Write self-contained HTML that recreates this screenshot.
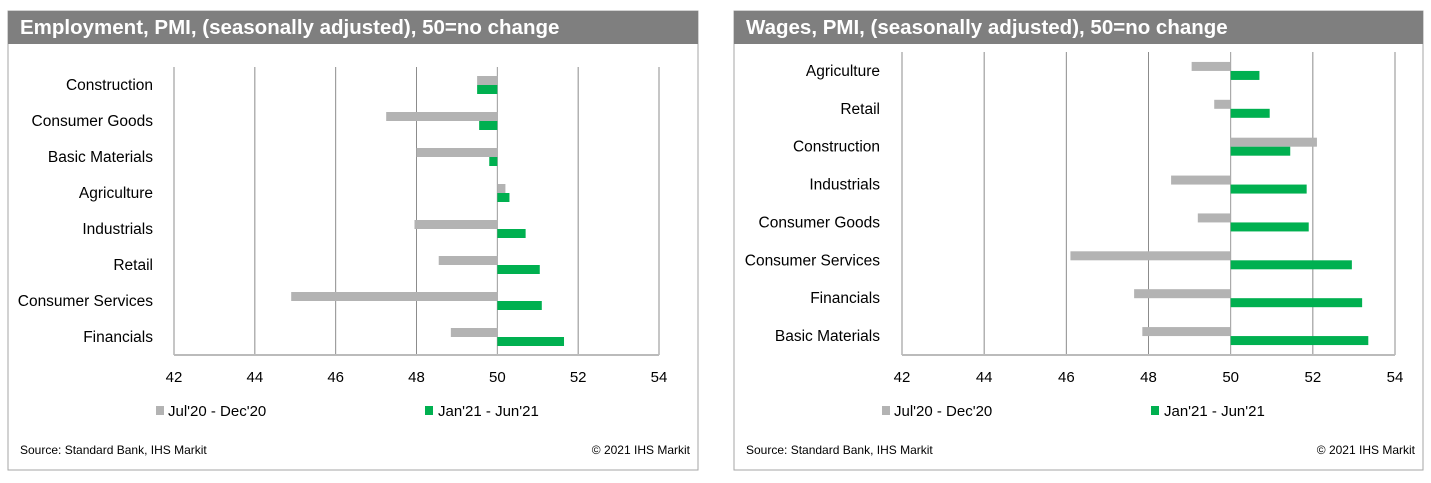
<!DOCTYPE html>
<html><head><meta charset="utf-8"><style>
body{margin:0;background:#fff;width:1431px;height:483px;overflow:hidden;font-family:"Liberation Sans",sans-serif}
svg{position:absolute;left:0;top:0}
</style></head><body>
<svg width="1431" height="483" id="s"></svg>
<script>
const cats1=["Construction","Consumer Goods","Basic Materials","Agriculture","Industrials","Retail","Consumer Services","Financials"];
const gray1=[49.5,47.25,48.0,50.2,47.95,48.55,44.9,48.85];
const green1=[49.5,49.55,49.8,50.3,50.7,51.05,51.1,51.65];
const cats2=["Agriculture","Retail","Construction","Industrials","Consumer Goods","Consumer Services","Financials","Basic Materials"];
const gray2=[49.05,49.6,52.1,48.55,49.2,46.1,47.65,47.85];
const green2=[50.7,50.95,51.45,51.85,51.9,52.95,53.2,53.35];
const ticks=[42,44,46,48,50,52,54];
const seriesNames=["Jul'20 - Dec'20","Jan'21 - Jun'21"];
const NS="http://www.w3.org/2000/svg";
const s=document.getElementById('s');
function el(t,a,p){const e=document.createElementNS(NS,t);for(const k in a)e.setAttribute(k,a[k]);(p||s).appendChild(e);return e;}
function panel(o){
 const g=el('g',{});
 
 
 const box=el('rect',{x:o.px,y:11,width:o.pw,height:459,fill:'#fff',stroke:'#a6a6a6','stroke-width':1},g);
 
 const hb=el('rect',{x:o.px,y:11,width:o.pw,height:33,fill:'#7f7f7f'},g);
 
 const ht=el('text',{x:o.px+12,y:34,fill:'#fff','font-size':20.5,'font-weight':'bold'},g);ht.textContent=o.title;
 
 const x=v=>o.x0+(v-42)*(o.x1-o.x0)/12;
 const n=o.cats.length,rh=(o.yb-o.yt)/n;
 ticks.forEach(t=>{
  const l=el('line',{x1:x(t),x2:x(t),y1:o.yt,y2:o.yb,stroke:t==50?'#999':'#8c8c8c','stroke-width':1},g);
  
  const tx=el('text',{x:x(t),y:o.yb+27,'text-anchor':'middle','font-size':15,fill:'#000'},g);tx.textContent=t;
  
 });
 const ax=el('line',{x1:x(42),x2:x(54),y1:o.yb,y2:o.yb,stroke:'#bbb','stroke-width':2},g);
 
 o.cats.forEach((c,i)=>{
  const cy=o.yt+rh*(i+0.5);
  const lb=el('text',{x:o.lx,y:cy+5,'text-anchor':'end','font-size':15.5,fill:'#000'},g);lb.textContent=c;
  
  const a=o.gray[i],b=o.green[i];
  const r1=el('rect',{x:Math.min(x(a),x(50)),y:cy-9,width:Math.abs(x(a)-x(50)),height:9,fill:'#b3b3b3'},g);
  
  const r2=el('rect',{x:Math.min(x(b),x(50)),y:cy,width:Math.abs(x(b)-x(50)),height:9,fill:'#00b050'},g);
  
 });
 const ly=406;
 const l1=el('rect',{x:o.px+148,y:ly,width:8,height:9,fill:'#b3b3b3'},g);
 const t1=el('text',{x:o.px+160,y:ly+10,'font-size':15},g);t1.textContent=seriesNames[0];
 const l2=el('rect',{x:o.px+417,y:ly,width:8,height:9,fill:'#00b050'},g);
 const t2=el('text',{x:o.px+430,y:ly+10,'font-size':15},g);t2.textContent=seriesNames[1];
 const sr=el('text',{x:o.px+12,y:454,'font-size':12},g);sr.textContent=o.source;
 const cp=el('text',{x:o.px+o.pw-8,y:454,'font-size':12,'text-anchor':'end'},g);cp.textContent='© 2021 IHS Markit';
}
panel({name:'employment-chart',px:8,pw:690,title:'Employment, PMI, (seasonally adjusted), 50=no change',x0:174,x1:659,yt:67,yb:355,lx:153,cats:cats1,gray:gray1,green:green1,source:'Source: Standard Bank,  IHS Markit'});
panel({name:'wages-chart',px:734,pw:689,title:'Wages, PMI, (seasonally adjusted), 50=no change',x0:902,x1:1395,yt:52,yb:355,lx:880,cats:cats2,gray:gray2,green:green2,source:'Source: Standard Bank, IHS Markit'});
</script>
</body></html>
